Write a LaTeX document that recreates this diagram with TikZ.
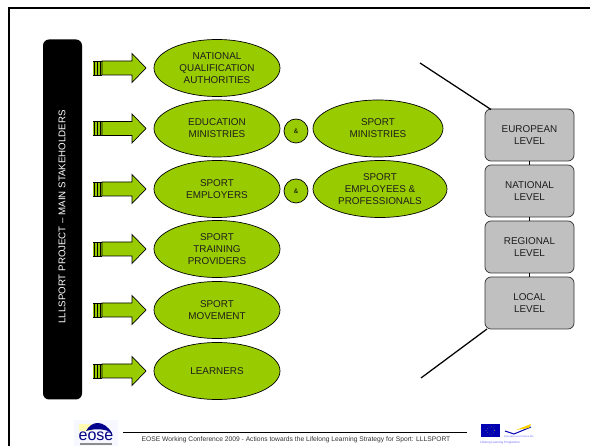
\documentclass[tikz,border=0pt]{standalone}
\usepackage{fontspec}
\setmainfont{Liberation Sans}
\usetikzlibrary{shapes.geometric}
\definecolor{lime}{RGB}{153,204,0}
\definecolor{boxgrey}{RGB}{192,192,192}
\definecolor{txt}{RGB}{30,30,30}
\tikzset{
 x=1pt,y=-1pt,
 oval/.style={ellipse,draw=black,line width=.7pt,fill=lime,inner sep=0pt,text=txt,align=center,font=\fontsize{9.9}{12}\selectfont,minimum height=57pt},
 amp/.style={circle,draw=black,line width=.7pt,fill=lime,inner sep=0pt,minimum size=24pt,font=\fontsize{6.5}{8}\selectfont},
 level/.style={rectangle,rounded corners=6pt,draw=black!80,line width=.7pt,fill=boxgrey,text=txt,align=center,font=\fontsize{9.9}{12}\selectfont,minimum width=89pt,minimum height=52pt,inner sep=0pt},
 flow/.style={draw=black,line width=.7pt,fill=lime},
 rule/.style={draw=black,line width=1.25pt}
}
\newcommand{\flowarrow}[1]{%
 \begin{scope}[yshift=-#1pt]
 \fill[lime] (93,-7) rectangle (102,7);
 \draw[black,line width=.7pt] (93,-7) -- (102,-7) (93,7) -- (102,7);
 \foreach \sx in {93.5,96.5,99.5}{\fill[black] (\sx,-7) rectangle (\sx+1,7);}
 \draw[flow] (102,-7) -- (132,-7) -- (132,-14.5) -- (146,0) -- (132,14.5) -- (132,7) -- (102,7) -- cycle;
 \end{scope}}
\begin{document}
\begin{tikzpicture}
\useasboundingbox (0,0) rectangle (590,446);
\fill[white] (0,0) rectangle (590,446);
\draw[black,line width=1.6pt] (9,446) -- (9,8) -- (590,8);
% bar
\node[rectangle,rounded corners=6pt,fill=black,minimum width=39pt,minimum height=360pt,inner sep=0pt] (bar) at (62.5,219.5) {};
\node[rotate=90,text=white,font=\fontsize{9.7}{12}\selectfont] (bart) at (62,217) {LLLSPORT PROJECT – MAIN STAKEHOLDERS};
% arrows
\flowarrow{68}\flowarrow{128.5}\flowarrow{189}\flowarrow{249}\flowarrow{310}\flowarrow{371}
% ovals
\node[oval,minimum width=126pt] (a1) at (217,68) {NATIONAL\\QUALIFICATION\\AUTHORITIES};
\node[oval,minimum width=126pt] (a2) at (217,128.5) {EDUCATION\\MINISTRIES};
\node[oval,minimum width=126pt] (a3) at (217,189) {SPORT\\EMPLOYERS};
\node[oval,minimum width=126pt] (a4) at (217,249) {SPORT\\TRAINING\\PROVIDERS};
\node[oval,minimum width=126pt] (a5) at (217,310) {SPORT\\MOVEMENT};
\node[oval,minimum width=126pt] (a6) at (217,371) {LEARNERS};
\node[amp] (m1) at (296,131) {\&};
\node[amp] (m2) at (296,191) {\&};
\node[oval,minimum width=130pt] (b1) at (378,128.5) {SPORT\\MINISTRIES};
\node[oval,minimum width=134pt] (b2) at (380,189) {SPORT\\EMPLOYEES \&\\PROFESSIONALS};
% levels
\node[level] (l1) at (529.5,135) {EUROPEAN\\LEVEL};
\node[level] (l2) at (529.5,191) {NATIONAL\\LEVEL};
\node[level] (l3) at (529.5,247) {REGIONAL\\LEVEL};
\node[level] (l4) at (529.5,303) {LOCAL\\LEVEL};
\draw[rule,line width=1.6pt] (l1) -- (l2);
\draw[rule,line width=1.6pt] (l2) -- (l3);
\draw[rule,line width=1.6pt] (l3) -- (l4);
\coordinate (tl) at (420,63);
\coordinate (bl) at (421,378);
\draw[rule] (tl) -- (491,109.5);
\draw[rule] (bl) -- (487,329);
% footer
\draw[black,line width=.9pt] (123,432) -- (467,432);
\node[font=\fontsize{6.7}{8}\selectfont,text=black!80,inner sep=0pt] (ft) at (296,440) {EOSE Working Conference 2009 - Actions towards the Lifelong Learning Strategy for Sport: LLLSPORT};
% eose logo
\fill[blue!3] (74,420) rectangle (118,446);
\fill[yellow!30!white] (79,424) rectangle (92,431);
\fill[blue!55!black] (86,431) .. controls (92,420) and (104,420) .. (112,433) .. controls (106,429) and (96,428) .. (86,431);
\node[font=\fontsize{16}{16}\selectfont,text=blue!50!black,inner sep=0pt] (eo) at (96,436.5) {eose};
\fill[black!45] (80,443.5) rectangle (112,445);
% eu logo
\fill[blue!70!black] (481,424) rectangle (500,437);
\draw[yellow!80!black,dotted,line width=.4pt] (490.5,430.5) circle (4);
\draw[blue!70!black,line width=1pt] (505,431) -- (514,434) -- (531,427);
\fill[yellow!70!orange] (516,430) -- (531,424) -- (529,428) -- cycle;
\node[font=\fontsize{2.5}{3}\selectfont,text=blue!60,inner sep=0pt] (eu) at (519,436.5) {Education and Culture DG};
\node[font=\fontsize{3}{3}\selectfont,text=blue!60,inner sep=0pt] (ll) at (500,443) {Lifelong Learning Programme};
\end{tikzpicture}
\end{document}
